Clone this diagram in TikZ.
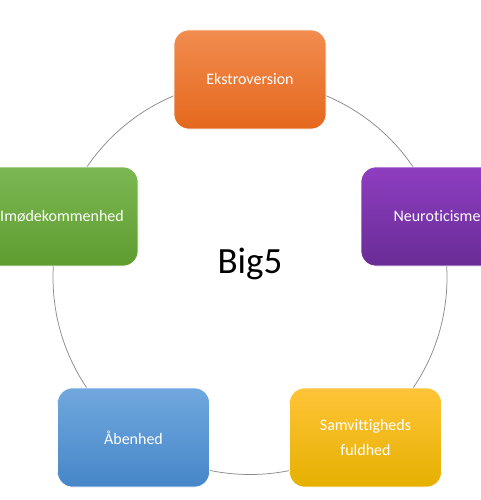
\documentclass[tikz,border=0pt]{standalone}
\usepackage{fontspec}
\setmainfont{Carlito}[Ligatures=NoCommon]
\begin{document}
\begin{tikzpicture}[x=1pt,y=-1pt,
  box/.style={rounded corners=15pt, minimum width=152pt, minimum height=99pt,
    inner sep=0pt, draw=white, line width=0.6pt, text=white,
    font=\fontsize{16}{25}\selectfont, align=center}]
\useasboundingbox (0,0) rectangle (480,500);
\fill[white] (0,0) rectangle (480,500);
\draw[gray!90, line width=0.75pt] (250,277.5) circle[radius=197];
\node[font=\fontsize{37}{44}\selectfont] (big) at (250,264) {Big5};
\node[box, top color={rgb,255:red,242;green,140;blue,80}, bottom color={rgb,255:red,228;green,104;blue,28}] (ekst) at (250,79.5) {Ekstroversion};
\node[box, top color={rgb,255:red,142;green,62;blue,192}, bottom color={rgb,255:red,105;green,44;blue,150}] (neuro) at (437,216.5) {Neuroticisme};
\node[box, top color={rgb,255:red,124;green,184;blue,82}, bottom color={rgb,255:red,94;green,156;blue,48}] (imod) at (62,216.5) {Imødekommenhed};
\node[box, top color={rgb,255:red,112;green,168;blue,222}, bottom color={rgb,255:red,70;green,134;blue,200}] (aaben) at (133.5,437.5) {Åbenhed};
\node[box, top color={rgb,255:red,255;green,196;blue,56}, bottom color={rgb,255:red,230;green,176;blue,0}] (samv) at (365.5,437.5) {Samvittigheds\\fuldhed};
\end{tikzpicture}
\end{document}
